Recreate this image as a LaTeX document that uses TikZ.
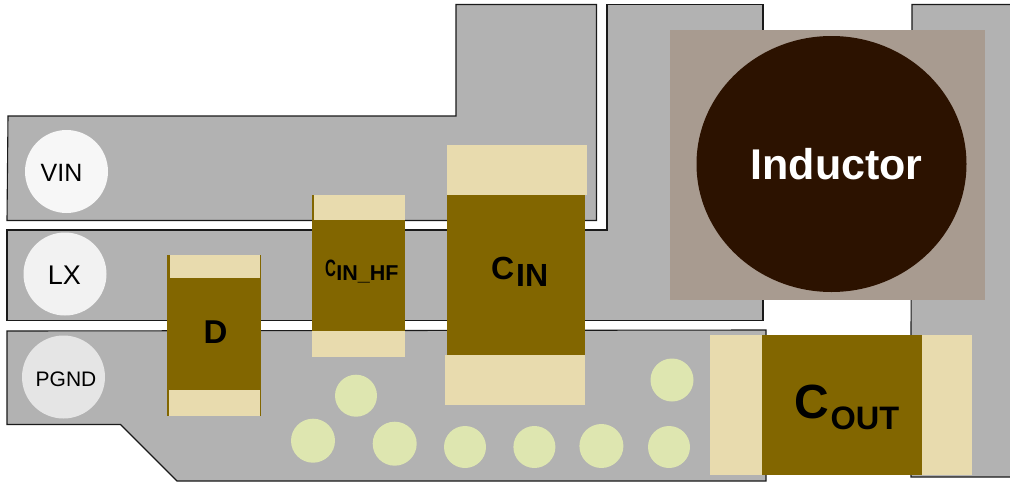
\documentclass[tikz,border=0pt]{standalone}
\usepackage{fontspec}
\setmainfont{Liberation Sans}
\newcommand{\pxfont}[1]{\fontsize{#1}{#1}\selectfont}
\definecolor{copper}{HTML}{B2B2B2}
\definecolor{padc}{HTML}{E8DBAE}
\definecolor{bodyc}{HTML}{826600}
\definecolor{viac}{HTML}{DEE6B0}
\definecolor{indpad}{HTML}{A89B90}
\definecolor{indcore}{HTML}{2C1200}
\definecolor{edgec}{HTML}{1A1A1A}
\tikzset{
  plane/.style={fill=copper,draw=edgec,line width=1.1pt,line join=miter},
  pad/.style={fill=padc,draw=none},
  bodyrect/.style={fill=bodyc,draw=none},
  via/.style={fill=viac,draw=none},
  lbl/.style={inner sep=0pt,outer sep=0pt,anchor=base,text=black},
  lblw/.style={inner sep=0pt,outer sep=0pt,anchor=base west,text=black}
}
\begin{document}
\begin{tikzpicture}[x=1pt,y=-1pt]
\useasboundingbox (0,0) rectangle (1010,482);
% copper planes
\draw[plane] (8,116) -- (456,116) -- (456,4.5) -- (596.5,4.5) -- (596.5,220.5) -- (7,220.5) -- cycle;
\draw[plane] (7,230) -- (607,230) -- (607,4.5) -- (763,4.5) -- (763,320.5) -- (7,320.5) -- cycle;
\draw[plane] (7,331) -- (766,330) -- (766,481) -- (177,481) -- (120.5,424.5) -- (7,424.5) -- cycle;
\draw[plane] (1012,4.5) -- (912,4.5) -- (912,120) -- (911,330) -- (911,477) -- (1012,477);
% inductor
\fill[indpad] (670,30) rectangle (985,300);
\fill[indcore] (831.5,164) ellipse [x radius=135, y radius=128];
% C_IN
\fill[bodyrect] (447,195) rectangle (585,355);
\fill[pad] (447,145) rectangle (587,195);
\fill[pad] (445,355) rectangle (585,405);
% C_OUT
\fill[bodyrect] (762,335) rectangle (922,475);
\fill[pad] (710,335) rectangle (762,475);
\fill[pad] (922,335) rectangle (972,475);
% D
\fill[bodyrect] (167,255) rectangle (261,416);
\fill[pad] (170,255) rectangle (260,278);
\fill[pad] (169,390) rectangle (260,416);
% C_IN_HF
\fill[bodyrect] (312,195) rectangle (405,357);
\fill[pad] (314,195) rectangle (405,220);
\fill[pad] (312,331) rectangle (405,357);
% terminals
\fill[fill=white!97!black] (66.5,171.5) circle [radius=41.5];
\fill[fill=white!95!black] (65,274) circle [radius=41.5];
\fill[fill=white!90!black] (63.5,377) circle [radius=41.5];
% vias
\fill[via] (356,395.7) circle [radius=21];
\fill[via] (313,440.7) circle [radius=22];
\fill[via] (394.7,443.7) circle [radius=22];
\fill[via] (465,447) circle [radius=21];
\fill[via] (534.4,447) circle [radius=21];
\fill[via] (601.4,446) circle [radius=22];
\fill[via] (669,447) circle [radius=21];
\fill[via] (672,380) circle [radius=21.5];
% labels
\node[lbl,font=\pxfont{25}] (vin) at (61.5,181.5) {VIN};
\node[lbl,font=\pxfont{27}] (lx) at (64.3,284) {LX};
\node[lbl,font=\pxfont{21}] (pgnd) at (66,386.7) {PGND};
\node[lbl,font=\pxfont{33}\bfseries] (d) at (215.5,343) {D};
\node[lblw,font=\pxfont{21.5}\bfseries] (cinhf) at (325,280) {\raisebox{3.3pt}{\scalebox{.7}[1.1]{C}}\kern.5pt IN\_HF};
\node[lblw,font=\pxfont{32}\bfseries] (cin) at (491,286) {\raisebox{7pt}{C}\kern2pt IN};
\node[lblw,font=\pxfont{32.5}\bfseries] (cout) at (794,429) {\raisebox{11pt}{\pxfont{48}C}\kern2pt OUT};
\node[lbl,font=\pxfont{43}\bfseries,text=white] (ind) at (836.5,179) {Inductor};
\end{tikzpicture}
\end{document}
